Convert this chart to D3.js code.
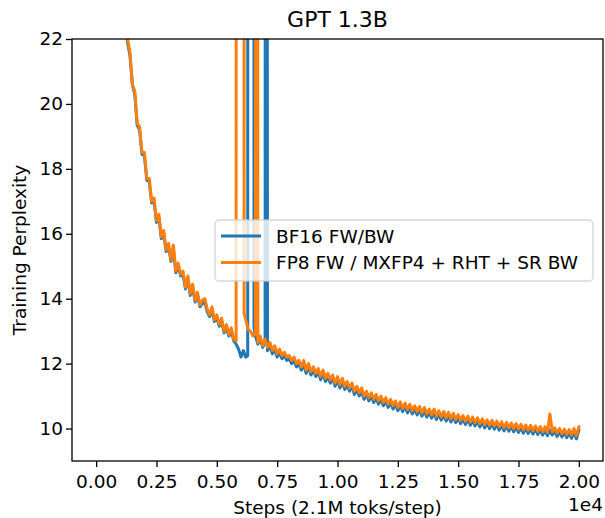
<!DOCTYPE html>
<html lang="en">
<head>
<meta charset="utf-8">
<title>GPT 1.3B</title>
<script src="https://cdn.jsdelivr.net/npm/d3@7"></script>
<style>
  body { margin: 0; background: #fff; }
  svg text { font-family: "DejaVu Sans", sans-serif; fill: #000; }
</style>
</head>
<body>
<svg id="chart" width="605" height="518"></svg>
<script>
// training log, one point every 100 steps starting at step 1200 (80 = off the chart, loss spike)
var stepStart = 1200, stepEvery = 100;

var bf16Ppl = [
  23.1, 21.9, 21.5, 20.6, 20.3, 19.35, 19.2, 18.45, 18.4, 17.65,
  17.6, 16.95, 17.0, 16.35, 16.5, 15.85, 16.0, 15.45, 15.6, 15.15,
  15.55, 14.8, 15.0, 14.7, 14.75, 14.3, 14.6, 14.1, 14.35, 13.9,
  14.1, 13.75, 13.85, 13.9, 13.6, 13.45, 13.65, 13.3, 13.4, 13.15,
  13.3, 12.95, 13.1, 12.85, 13.0, 12.7, 12.6, 12.45, 12.2, 12.4,
  12.2, 80, 80, 80, 12.85, 12.6, 12.75, 12.5, 12.65, 12.4,
  12.55, 12.3, 12.45, 12.2, 12.35, 12.15, 12.25, 12.1, 12.15, 12.0,
  12.1, 11.9, 12.0, 11.8, 11.98, 11.7, 11.9, 11.65, 11.8, 11.6,
  11.75, 11.5, 11.7, 11.45, 11.6, 11.4, 11.55, 11.3, 11.5, 11.25,
  11.45, 11.2, 11.35, 11.15, 11.3, 11.05, 11.2, 11.0, 11.15, 10.9,
  11.05, 10.85, 11.0, 10.8, 10.95, 10.75, 10.9, 10.7, 10.85, 10.65,
  10.8, 10.6, 10.75, 10.55, 10.72, 10.52, 10.68, 10.48, 10.65, 10.45,
  10.6, 10.42, 10.58, 10.38, 10.55, 10.35, 10.5, 10.32, 10.5, 10.28,
  10.45, 10.26, 10.42, 10.23, 10.4, 10.2, 10.37, 10.18, 10.33, 10.15,
  10.3, 10.13, 10.28, 10.1, 10.25, 10.08, 10.23, 10.05, 10.2, 10.02,
  10.17, 10.0, 10.15, 9.98, 10.13, 9.95, 10.11, 9.93, 10.09, 9.92,
  10.07, 9.9, 10.05, 9.88, 10.03, 9.86, 10.01, 9.85, 10.0, 9.83,
  9.98, 9.82, 9.96, 9.8, 9.95, 9.78, 9.95, 9.8, 9.92, 9.76,
  9.9, 9.74, 9.88, 9.72, 9.87, 9.7, 9.9, 9.68, 9.95
];
// extra points at the spike edges [step, ppl]
var bf16Spikes = [[6280, 12.25], [6290, 80], [6530, 80], [6540, 13.1], [7030, 80], [7045, 80]];

var fp8Ppl = [
  23.2, 22.0, 21.6, 20.6, 20.4, 19.4, 19.3, 18.5, 18.5, 17.7,
  17.7, 17.0, 17.1, 16.4, 16.6, 15.9, 16.1, 15.5, 15.7, 15.2,
  15.65, 14.85, 15.1, 14.75, 14.85, 14.35, 14.7, 14.15, 14.45, 13.95,
  14.2, 13.8, 13.95, 14.0, 13.7, 13.5, 13.75, 13.35, 13.5, 13.2,
  13.4, 13.0, 13.2, 12.9, 13.1, 12.75, 12.7, 80, 80, 80,
  13.35, 13.05, 13.0, 12.85, 12.9, 12.65, 12.85, 12.55, 12.75, 12.5,
  12.65, 12.4, 12.55, 12.3, 12.45, 12.25, 12.35, 12.2, 12.25, 12.1,
  12.2, 12.0, 12.1, 11.9, 12.1, 11.8, 12.0, 11.75, 11.9, 11.7,
  11.85, 11.6, 11.8, 11.55, 11.7, 11.5, 11.65, 11.4, 11.6, 11.35,
  11.55, 11.3, 11.45, 11.25, 11.4, 11.15, 11.3, 11.1, 11.25, 11.0,
  11.15, 10.95, 11.1, 10.9, 11.05, 10.85, 11.0, 10.8, 10.95, 10.75,
  10.9, 10.7, 10.85, 10.65, 10.82, 10.62, 10.78, 10.58, 10.75, 10.55,
  10.7, 10.52, 10.68, 10.48, 10.65, 10.45, 10.6, 10.42, 10.6, 10.38,
  10.55, 10.36, 10.52, 10.33, 10.5, 10.3, 10.47, 10.28, 10.43, 10.25,
  10.4, 10.23, 10.38, 10.2, 10.35, 10.18, 10.33, 10.15, 10.3, 10.12,
  10.27, 10.1, 10.25, 10.08, 10.23, 10.05, 10.21, 10.03, 10.19, 10.02,
  10.17, 10.0, 10.15, 9.98, 10.13, 9.96, 10.11, 9.95, 10.1, 9.93,
  10.08, 9.92, 10.06, 9.9, 10.05, 9.88, 10.45, 9.9, 10.02, 9.86,
  10.0, 9.84, 9.98, 9.82, 9.97, 9.8, 10.0, 9.78, 10.05
];
var fp8Spikes = [[5810, 80], [6120, 80], [6130, 13.55], [6640, 80], [6655, 80]];

var xTicks = [0, 2500, 5000, 7500, 10000, 12500, 15000, 17500, 20000];
var yTicks = [10, 12, 14, 16, 18, 20, 22];
var seriesNames = ["BF16 FW/BW", "FP8 FW / MXFP4 + RHT + SR BW"];
var seriesColors = ["#1f77b4", "#ff7f0e"];

function toPoints(vals, extra) {
  var pts = vals.map(function(v, i) { return [stepStart + i * stepEvery, v]; });
  return pts.concat(extra).sort(function(a, b) { return a[0] - b[0]; });
}

var svg = d3.select("#chart");
var m = {left: 72, right: 603, top: 39, bottom: 461};
var fs = 18.5;

var x = d3.scaleLinear().domain([-1000, 21000]).range([m.left, m.right]);
var y = d3.scaleLinear().domain([9.0, 22]).range([m.bottom, m.top]);

svg.append("clipPath").attr("id", "clip")
  .append("rect")
  .attr("x", m.left).attr("y", m.top)
  .attr("width", m.right - m.left).attr("height", m.bottom - m.top);

var line = d3.line().x(function(d) { return x(d[0]); }).y(function(d) { return y(d[1]); });

var series = [toPoints(bf16Ppl, bf16Spikes), toPoints(fp8Ppl, fp8Spikes)];
var g = svg.append("g").attr("clip-path", "url(#clip)");
series.forEach(function(pts, i) {
  g.append("path")
    .attr("d", line(pts))
    .attr("fill", "none")
    .attr("stroke", seriesColors[i])
    .attr("stroke-width", 3)
    .attr("stroke-linejoin", "round")
    .attr("stroke-linecap", "square");
});

// axes
var xAxis = svg.append("g").attr("transform", "translate(0," + m.bottom + ")")
  .call(d3.axisBottom(x).tickValues(xTicks).tickSize(6).tickPadding(8)
    .tickFormat(function(d) { return (d / 1e4).toFixed(2); }));
var yAxis = svg.append("g").attr("transform", "translate(" + m.left + ",0)")
  .call(d3.axisLeft(y).tickValues(yTicks).tickSize(6).tickPadding(3));

[xAxis, yAxis].forEach(function(a) {
  a.select(".domain").remove();
  a.selectAll(".tick line").attr("stroke", "#000").attr("stroke-width", 1.3);
  a.selectAll(".tick text").attr("font-size", fs).attr("font-family", "DejaVu Sans").attr("fill", "#000");
});

svg.append("rect")
  .attr("x", m.left).attr("y", m.top)
  .attr("width", m.right - m.left).attr("height", m.bottom - m.top)
  .attr("fill", "none").attr("stroke", "#000").attr("stroke-width", 1.3);

// legend
var lg = svg.append("g");
lg.append("rect")
  .attr("x", 215).attr("y", 220).attr("width", 378).attr("height", 61).attr("rx", 4)
  .attr("fill", "#fff").attr("fill-opacity", 0.8)
  .attr("stroke", "#ccc").attr("stroke-opacity", 0.8).attr("stroke-width", 1.3);
seriesNames.forEach(function(name, i) {
  var ly = 236 + i * 26.5;
  lg.append("line").attr("x1", 221).attr("x2", 261).attr("y1", ly).attr("y2", ly)
    .attr("stroke", seriesColors[i]).attr("stroke-width", 3);
  lg.append("text").attr("x", 276).attr("y", ly).attr("dy", "0.36em")
    .attr("font-size", fs).text(name);
});

// labels
svg.append("text").attr("x", (m.left + m.right) / 2).attr("y", 26.5)
  .attr("text-anchor", "middle").attr("font-size", 22).text("GPT 1.3B");
svg.append("text").attr("x", (m.left + m.right) / 2).attr("y", 514)
  .attr("text-anchor", "middle").attr("font-size", fs).text("Steps (2.1M toks/step)");
svg.append("text").attr("x", m.right).attr("y", 511)
  .attr("text-anchor", "end").attr("font-size", fs).text("1e4");
svg.append("text")
  .attr("transform", "translate(26," + (m.top + m.bottom) / 2 + ") rotate(-90)")
  .attr("text-anchor", "middle").attr("font-size", fs).text("Training Perplexity");
</script>
</body>
</html>
